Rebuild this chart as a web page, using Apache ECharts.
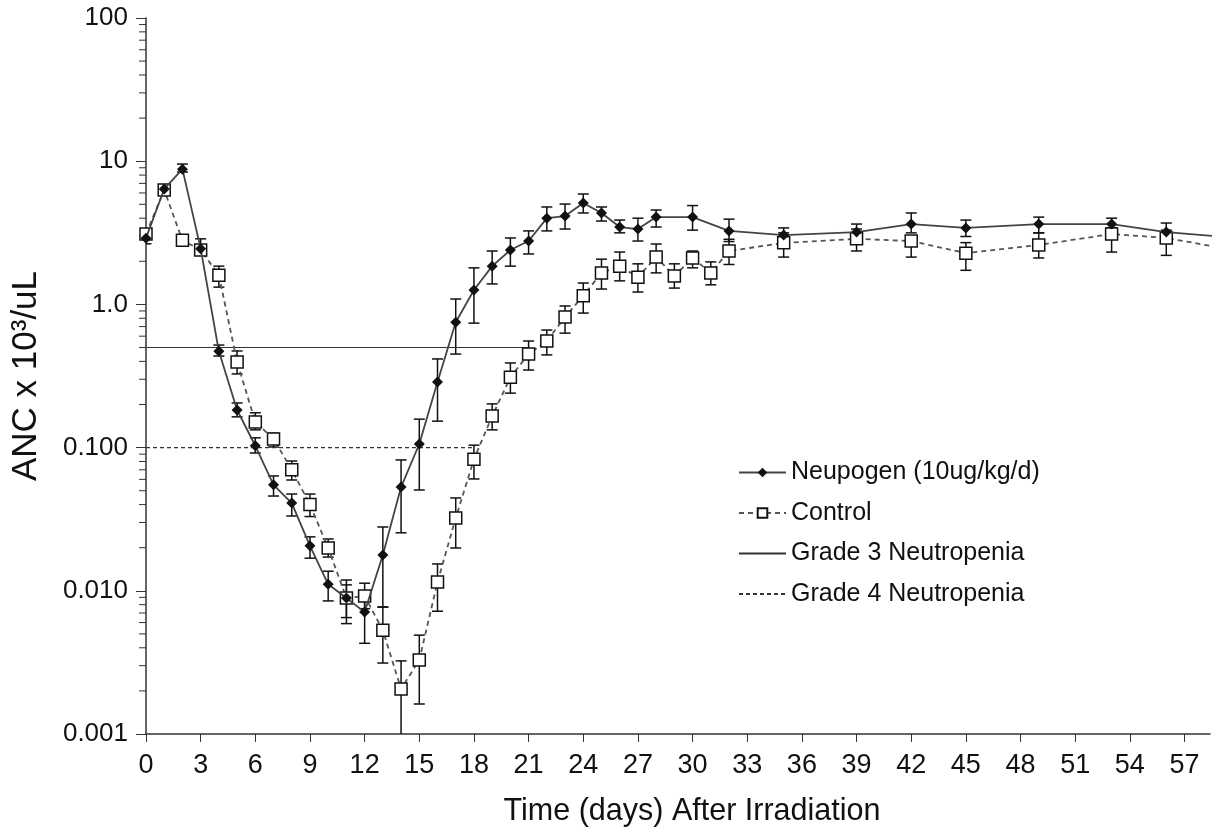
<!DOCTYPE html>
<html>
<head>
<meta charset="utf-8">
<script src="https://cdn.jsdelivr.net/npm/echarts@6/dist/echarts.min.js"></script>
<style>
  html, body { margin: 0; padding: 0; background: #fff; }
  #chart { width: 1213px; height: 833px; }
</style>
</head>
<body>
<div id="chart"></div>
<script>
// x axis ticks
const xTicks = [0, 3, 6, 9, 12, 15, 18, 21, 24, 27, 30, 33, 36, 39, 42, 45, 48, 51, 54, 57]
// y axis decade labels
const yTickLabels = { 100: '100', 10: '10', 1: '1.0', 0.1: '0.100', 0.01: '0.010', 0.001: '0.001' }
const yMinorTicks = [
  0.002, 0.003, 0.004, 0.005, 0.006, 0.007, 0.008, 0.009,
  0.02, 0.03, 0.04, 0.05, 0.06, 0.07, 0.08, 0.09,
  0.2, 0.3, 0.4, 0.5, 0.6, 0.7, 0.8, 0.9,
  2, 3, 4, 5, 6, 7, 8, 9,
  20, 30, 40, 50, 60, 70, 80, 90
]

// Neupogen (10ug/kg/d)
const neupDays = [0, 1, 2, 3, 4, 5, 6, 7, 8, 9, 10, 11, 12, 13, 14, 15, 16, 17, 18, 19, 20, 21, 22, 23, 24, 25, 26, 27, 28, 30, 32, 35, 39, 42, 45, 49, 53, 56, 60]
const neupMean = [2.9, 6.4, 8.8, 2.45, 0.47, 0.183, 0.103, 0.055, 0.041, 0.0206, 0.0111, 0.0089, 0.0071, 0.0178, 0.053, 0.106, 0.287, 0.75, 1.26, 1.85, 2.4, 2.77, 4.0, 4.14, 5.1, 4.35, 3.47, 3.36, 4.07, 4.07, 3.26, 3.05, 3.2, 3.64, 3.42, 3.64, 3.64, 3.2, 2.9]
const neupLow = [2.65, 6.0, 8.4, 2.28, 0.436, 0.164, 0.0917, 0.0459, 0.0333, 0.0169, 0.0085, 0.0065, 0.0043, 0.0077, 0.0254, 0.0506, 0.153, 0.45, 0.74, 1.39, 1.85, 2.25, 3.26, 3.36, 4.35, 3.82, 3.16, 2.77, 3.47, 3.3, 2.75, 2.91, 3.0, 3.16, 2.98, 3.16, 3.3, 3.16, 2.7]
const neupHigh = [3.1, 6.8, 9.55, 2.87, 0.52, 0.205, 0.117, 0.0634, 0.0474, 0.0238, 0.0137, 0.011, 0.0098, 0.0279, 0.082, 0.158, 0.416, 1.09, 1.8, 2.36, 2.91, 3.26, 4.79, 5.02, 5.9, 4.79, 3.88, 4.0, 4.56, 4.9, 3.94, 3.42, 3.64, 4.35, 3.88, 4.07, 4.0, 3.7, 3.1]

// Control
const ctrlDays = [0, 1, 2, 3, 4, 5, 6, 7, 8, 9, 10, 11, 12, 13, 14, 15, 16, 17, 18, 19, 20, 21, 22, 23, 24, 25, 26, 27, 28, 29, 30, 31, 32, 35, 39, 42, 45, 49, 53, 56, 60]
const ctrlMean = [3.1, 6.3, 2.8, 2.4, 1.6, 0.396, 0.151, 0.115, 0.07, 0.04, 0.0199, 0.0089, 0.0092, 0.0053, 0.00206, 0.00329, 0.0115, 0.0322, 0.083, 0.166, 0.31, 0.45, 0.555, 0.817, 1.15, 1.66, 1.85, 1.55, 2.14, 1.58, 2.11, 1.66, 2.36, 2.69, 2.87, 2.77, 2.28, 2.6, 3.1, 2.91, 2.36]
const ctrlLow = [2.9, 6.0, 2.65, 2.25, 1.32, 0.327, 0.133, 0.101, 0.0594, 0.033, 0.0172, 0.0059, 0.0075, 0.00313, 0.0005, 0.00162, 0.0072, 0.0199, 0.0604, 0.133, 0.24, 0.348, 0.444, 0.63, 0.87, 1.28, 1.46, 1.22, 1.66, 1.3, 1.8, 1.37, 1.9, 2.14, 2.36, 2.14, 1.73, 2.11, 2.32, 2.2, 2.0]
const ctrlHigh = [3.3, 6.6, 3.0, 2.6, 1.85, 0.473, 0.175, 0.126, 0.0806, 0.0474, 0.023, 0.0119, 0.0113, 0.0077, 0.00324, 0.0049, 0.0154, 0.0445, 0.104, 0.202, 0.39, 0.555, 0.662, 0.975, 1.41, 2.07, 2.32, 1.92, 2.64, 1.92, 2.36, 1.98, 2.85, 3.16, 3.36, 3.0, 2.7, 3.16, 3.42, 3.3, 2.8]

// neutropenia thresholds
const grade3 = [[0, 0.5], [21, 0.5]]
const grade4 = [[0, 0.1], [18, 0.1]]

const arial = "'Liberation Sans', Arial, sans-serif"

function pairs(xs, ys) {
  return xs.map((d, i) => [d, ys[i]])
}
function bars(xs, lo, hi) {
  return xs.map((d, i) => [d, lo[i], hi[i]])
}

function renderErrorBar(params, api) {
  const x = api.value(0)
  const top = api.coord([x, api.value(2)])
  const bot = api.coord([x, api.value(1)])
  const half = 5.5
  const style = { stroke: '#111', lineWidth: 1.5 }
  return {
    type: 'group',
    children: [
      { type: 'line', shape: { x1: top[0], y1: top[1], x2: bot[0], y2: bot[1] }, style: style },
      { type: 'line', shape: { x1: top[0] - half, y1: top[1], x2: top[0] + half, y2: top[1] }, style: style },
      { type: 'line', shape: { x1: bot[0] - half, y1: bot[1], x2: bot[0] + half, y2: bot[1] }, style: style }
    ]
  }
}

function renderMinorTick(params, api) {
  const p = api.coord([0, api.value(0)])
  return {
    type: 'line',
    shape: { x1: p[0] - 7, y1: p[1], x2: p[0], y2: p[1] },
    style: { stroke: '#333', lineWidth: 1 }
  }
}

const myChart = echarts.init(document.getElementById('chart'))
myChart.setOption({
  animation: false,
  backgroundColor: '#fff',
  grid: { left: 146, right: 3, top: 18, bottom: 99, containLabel: false, outerBoundsMode: 'none' },
  legend: {
    orient: 'vertical',
    left: 738,
    top: 460,
    padding: 0,
    itemWidth: 47,
    itemHeight: 12,
    itemGap: 15.5,
    data: ['Neupogen (10ug/kg/d)', 'Control', 'Grade 3 Neutropenia', 'Grade 4 Neutropenia'],
    textStyle: { fontFamily: arial, fontSize: 25, color: '#111', lineHeight: 25 }
  },
  xAxis: {
    type: 'value',
    min: 0,
    max: 58.4,
    splitLine: { show: false },
    axisLine: { onZero: false, lineStyle: { color: '#333', width: 1.5 } },
    axisTick: { length: 8, lineStyle: { color: '#333' }, customValues: xTicks },
    axisLabel: { customValues: xTicks, margin: 18, fontFamily: arial, fontSize: 27, color: '#111' },
    name: 'Time (days) After Irradiation',
    nameLocation: 'middle',
    nameGap: 62,
    nameTextStyle: { fontFamily: arial, fontSize: 30.5, color: '#111', padding: [0, 0, 0, 28] }
  },
  yAxis: {
    type: 'log',
    logBase: 10,
    min: 0.001,
    max: 100,
    splitLine: { show: false },
    axisLine: { show: true, lineStyle: { color: '#333', width: 1.5 } },
    axisTick: { show: true, length: 10, lineStyle: { color: '#333' } },
    axisLabel: {
      margin: 18,
      fontFamily: arial,
      fontSize: 26,
      color: '#111',
      formatter: (v) => yTickLabels[+v.toPrecision(3)] || ''
    },
    name: 'ANC x 10³/uL',
    nameLocation: 'middle',
    nameRotate: 90,
    nameGap: 102,
    nameTextStyle: { fontFamily: arial, fontSize: 35, color: '#111' }
  },
  series: [
    {
      name: 'minorTicks',
      type: 'custom',
      renderItem: renderMinorTick,
      data: yMinorTicks.map((v) => [v]),
      encode: { y: 0 },
      clip: false,
      silent: true
    },
    {
      name: 'Grade 3 Neutropenia',
      type: 'line',
      data: grade3,
      symbol: 'none',
      lineStyle: { color: '#333', width: 1.2, type: 'solid' },
      itemStyle: { color: 'rgba(0,0,0,0)', borderWidth: 0 }
    },
    {
      name: 'Grade 4 Neutropenia',
      type: 'line',
      data: grade4,
      symbol: 'none',
      lineStyle: { color: '#333', width: 1.2, type: [4, 3] },
      itemStyle: { color: 'rgba(0,0,0,0)', borderWidth: 0 }
    },
    {
      name: 'ctrlErr',
      type: 'custom',
      renderItem: renderErrorBar,
      data: bars(ctrlDays, ctrlLow, ctrlHigh),
      encode: { x: 0, y: [1, 2] },
      clip: true,
      z: 3
    },
    {
      name: 'neupErr',
      type: 'custom',
      renderItem: renderErrorBar,
      data: bars(neupDays, neupLow, neupHigh),
      encode: { x: 0, y: [1, 2] },
      clip: true,
      z: 3
    },
    {
      name: 'Control',
      type: 'line',
      data: pairs(ctrlDays, ctrlMean),
      clip: true,
      symbol: 'rect',
      symbolSize: 12,
      showAllSymbol: true,
      lineStyle: { color: '#555', width: 1.8, type: [5, 4] },
      itemStyle: { color: '#fff', borderColor: '#111', borderWidth: 1.5 },
      z: 4
    },
    {
      name: 'Neupogen (10ug/kg/d)',
      type: 'line',
      data: pairs(neupDays, neupMean),
      clip: true,
      symbol: 'diamond',
      symbolSize: 11,
      showAllSymbol: true,
      lineStyle: { color: '#444', width: 1.8 },
      itemStyle: { color: '#111', borderColor: '#111', borderWidth: 0 },
      z: 5
    }
  ]
})
window.addEventListener('resize', () => {
  myChart.resize()
})
</script>
</body>
</html>
